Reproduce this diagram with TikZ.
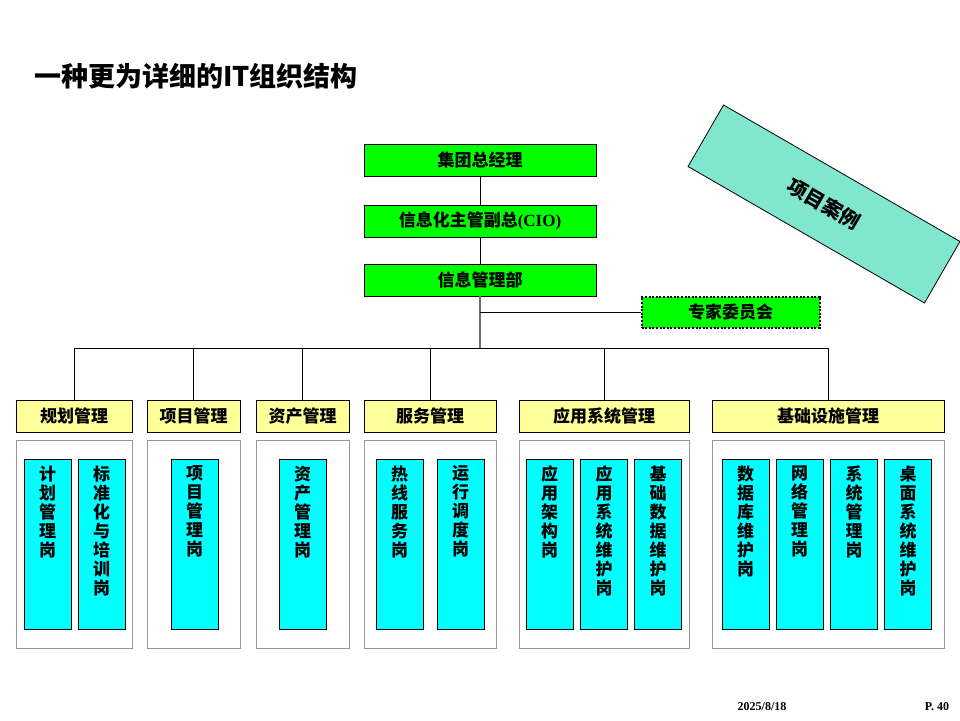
\documentclass[tikz,border=0pt]{standalone}
\usepackage{fontspec}
\newfontfamily\cjk{Noto Sans CJK SC}
\newfontfamily\tms{Liberation Serif}
\definecolor{grn}{RGB}{0,255,0}
\definecolor{ylw}{RGB}{255,255,153}
\definecolor{cyn}{RGB}{0,255,255}
\definecolor{aquabox}{RGB}{128,230,206}
\definecolor{gborder}{RGB}{150,150,150}
\definecolor{trunkc}{RGB}{110,110,110}
\begin{document}
\begin{tikzpicture}[x=1pt,y=-1pt,
  gbox/.style={draw=black, line width=0.8pt, fill=grn, inner sep=0pt, minimum width=232pt, minimum height=32pt, font=\cjk\bfseries\fontsize{17}{19}\selectfont},
  ybox/.style={draw=black, line width=1pt, fill=ylw, inner sep=0pt, minimum height=32pt, font=\cjk\bfseries\fontsize{17}{19}\selectfont},
  obox/.style={draw=gborder, line width=1pt, fill=white, inner sep=0pt, minimum height=208pt},
  cbox/.style={draw=black, line width=0.8pt, fill=cyn, inner sep=0pt, minimum height=170pt, minimum width=47pt},
  vtext/.style={anchor=north, inner sep=0pt, align=center, font=\cjk\bfseries\fontsize{17}{19}\selectfont},
  conn/.style={draw=black, line width=0.8pt},
  trunk/.style={draw=trunkc, line width=1.6pt}
]
\useasboundingbox[fill=white] (0,0) rectangle (960,720);

% title
\node[anchor=west, inner sep=0pt, font=\cjk\bfseries\fontsize{27}{29}\selectfont] (title) at (34,76) {一种更为详细的IT组织结构};

% top boxes
\node[gbox] (g1) at (480,160) {集团总经理};
\node[gbox] (g2) at (480,221) {信息化主管副总{\tms\bfseries (CIO)}};
\node[gbox] (g3) at (480,280) {信息管理部};
\node[draw=black, line width=2pt, dash pattern=on 2pt off 1.6pt, fill=grn, inner sep=0pt, minimum width=178pt, minimum height=31pt, font=\cjk\bfseries\fontsize{17}{19}\selectfont] (zj) at (730.5,312) {专家委员会};

% rotated box
\node[draw=black, line width=0.8pt, fill=aquabox, rotate=-30, inner sep=0pt, minimum width=273pt, minimum height=71pt, font=\cjk\bfseries\fontsize{20}{22}\selectfont] (case) at (824,204) {项目案例};

% yellow department boxes
\node[ybox, minimum width=116pt] (y1) at (74,416) {规划管理};
\node[ybox, minimum width=93pt] (y2) at (193.5,416) {项目管理};
\node[ybox, minimum width=93pt] (y3) at (302.5,416) {资产管理};
\node[ybox, minimum width=132pt] (y4) at (430,416) {服务管理};
\node[ybox, minimum width=170pt] (y5) at (604,416) {应用系统管理};
\node[ybox, minimum width=232pt] (y6) at (828,416) {基础设施管理};

% outer gray boxes
\node[obox, minimum width=116pt] (o1) at (74,544) {};
\node[obox, minimum width=93pt] (o2) at (193.5,544) {};
\node[obox, minimum width=93pt] (o3) at (302.5,544) {};
\node[obox, minimum width=132pt] (o4) at (430,544) {};
\node[obox, minimum width=170pt] (o5) at (604,544) {};
\node[obox, minimum width=232pt] (o6) at (828,544) {};

% cyan post boxes
\node[cbox] (c1) at (47.5,544) {};
\node[cbox] (c2) at (101.5,544) {};
\node[cbox] (c3) at (194.5,544) {};
\node[cbox] (c4) at (302.5,544) {};
\node[cbox] (c5) at (399.5,544) {};
\node[cbox] (c6) at (460.5,544) {};
\node[cbox] (c7) at (549.5,544) {};
\node[cbox] (c8) at (604,544) {};
\node[cbox] (c9) at (658,544) {};
\node[cbox] (c10) at (745.5,544) {};
\node[cbox] (c11) at (799.5,544) {};
\node[cbox] (c12) at (854,544) {};
\node[cbox] (c13) at (908,544) {};

\node[vtext] (t1) at ([yshift=-7pt]c1.north) {计\\划\\管\\理\\岗};
\node[vtext] (t2) at ([yshift=-7pt]c2.north) {标\\准\\化\\与\\培\\训\\岗};
\node[vtext] (t3) at ([yshift=-7pt]c3.north) {项\\目\\管\\理\\岗};
\node[vtext] (t4) at ([yshift=-7pt]c4.north) {资\\产\\管\\理\\岗};
\node[vtext] (t5) at ([yshift=-7pt]c5.north) {热\\线\\服\\务\\岗};
\node[vtext] (t6) at ([yshift=-7pt]c6.north) {运\\行\\调\\度\\岗};
\node[vtext] (t7) at ([yshift=-7pt]c7.north) {应\\用\\架\\构\\岗};
\node[vtext] (t8) at ([yshift=-7pt]c8.north) {应\\用\\系\\统\\维\\护\\岗};
\node[vtext] (t9) at ([yshift=-7pt]c9.north) {基\\础\\数\\据\\维\\护\\岗};
\node[vtext] (t10) at ([yshift=-7pt]c10.north) {数\\据\\库\\维\\护\\岗};
\node[vtext] (t11) at ([yshift=-7pt]c11.north) {网\\络\\管\\理\\岗};
\node[vtext] (t12) at ([yshift=-7pt]c12.north) {系\\统\\管\\理\\岗};
\node[vtext] (t13) at ([yshift=-7pt]c13.north) {桌\\面\\系\\统\\维\\护\\岗};

% connectors
\coordinate (bus) at (480,348);
\coordinate (zjj) at (480,312);
\draw[conn] (g1) -- (g2);
\draw[conn] (g2) -- (g3);
\draw[trunk] (g3.south) -- (bus);
\draw[conn] (zjj) -- (zj.west);
\draw[conn] (bus) -| (y1.north);
\draw[conn] (bus) -| (y2.north);
\draw[conn] (bus) -| (y3.north);
\draw[conn] (bus) -| (y4.north);
\draw[conn] (bus) -| (y5.north);
\draw[conn] (bus) -| (y6.north);

% footer
\node[inner sep=0pt, font=\tms\bfseries\fontsize{12}{14}\selectfont] (date) at (762,707) {2025/8/18};
\node[inner sep=0pt, font=\tms\bfseries\fontsize{12}{14}\selectfont] (page) at (937,707) {P. 40};
\end{tikzpicture}
\end{document}
